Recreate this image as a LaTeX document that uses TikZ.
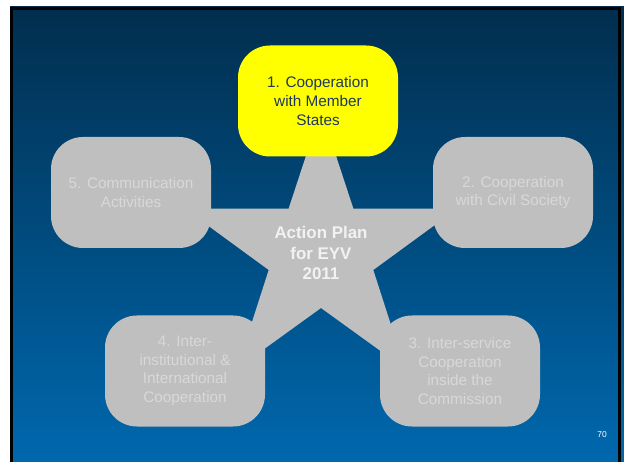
\documentclass[tikz,border=0pt]{standalone}
\usepackage{fontspec}
\setmainfont{Liberation Sans}
\definecolor{bgtop}{RGB}{1,46,78}
\definecolor{bgbot}{RGB}{0,104,174}
\definecolor{boxgray}{RGB}{191,191,191}
\definecolor{boxtext}{RGB}{216,216,216}
\definecolor{hiyellow}{RGB}{255,255,0}
\definecolor{yeltext}{RGB}{31,56,96}
\definecolor{startext}{RGB}{242,242,242}
\tikzset{
  boxnode/.style={rectangle, rounded corners=32pt, minimum width=160pt, minimum height=111pt,
    fill=boxgray, text=boxtext, align=center, inner sep=0pt,
    font=\fontsize{15.3}{18.6}\selectfont},
  hilite/.style={boxnode, fill=hiyellow, text=yeltext},
  startxt/.style={align=center, text=startext, font=\bfseries\fontsize{16.9}{20.5}\selectfont},
  starshape/.style={fill=boxgray}
}
\begin{document}
\begin{tikzpicture}[x=1pt,y=-1pt]
\useasboundingbox (0,0) rectangle (624,462);
\fill[white] (0,0) rectangle (624,462);
\shade[top color=bgtop, bottom color=bgbot] (10,7) rectangle (624,462);
% frame
\fill[black] (10,7) rectangle (13,462);
\fill[black] (10,7) rectangle (621,10);
\fill[black] (618,7) rectangle (621,462);
% star
\begin{scope}[shift={(321,253)}]
\fill[starshape] (-90:143) -- (-126:55) -- (-162:143) -- (-198:55) -- (-234:143)
  -- (-270:55) -- (-306:143) -- (-342:55) -- (-18:143) -- (-54:55) -- cycle;
\end{scope}
\node[startxt] (star) at (321,253) {Action Plan\\for EYV\\2011};
% boxes
\node[hilite] (b1) at (318,101) {1. Cooperation\\with Member\\States};
\node[boxnode] (b5) at (131,192.5) {5. Communication\\Activities};
\node[boxnode] (b2) at (513,192.5) {2. Cooperation\\with Civil Society};
\node[boxnode] (b4) at (185,371) {4. Inter-\\institutional \&\\International\\Cooperation};
\node[boxnode] (b3) at (460,371) {3. Inter-service\\Cooperation\\inside the\\Commission};
\node[text=white, font=\fontsize{8.5}{10}\selectfont, inner sep=0pt] (pg) at (602,435) {70};
\end{tikzpicture}
\end{document}
